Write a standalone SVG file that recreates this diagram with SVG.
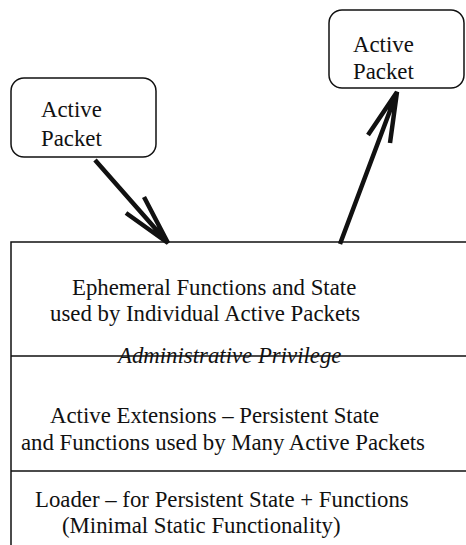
<svg xmlns="http://www.w3.org/2000/svg" width="466" height="545" viewBox="0 0 466 545">
<style>
text{font-family:"Liberation Serif","Times New Roman",serif;font-size:22.8px;fill:#111}
.box{fill:#fff;stroke:#111;stroke-width:1.5}
.ln{stroke:#111;stroke-width:1.5;fill:none}
.arr{stroke:#111;stroke-width:4.5;fill:none;stroke-linecap:butt}
.it{font-style:italic}
</style>
<rect width="466" height="545" fill="#fff"/>
<g id="packet-in">
<rect class="box" x="11" y="78" width="145" height="79" rx="13"/>
<text x="41" y="117">Active</text>
<text x="41" y="146">Packet</text>
</g>
<g id="packet-out">
<rect class="box" x="329" y="10" width="135" height="78" rx="13"/>
<text x="353" y="52">Active</text>
<text x="353" y="79">Packet</text>
</g>
<g id="stack">
<path class="ln" d="M11 545 V242 H466 M11 356 H466 M11 471 H466"/>
<text x="72" y="295">Ephemeral Functions and State</text>
<text x="50" y="321">used by Individual Active Packets</text>
<text class="it" x="118" y="363">Administrative Privilege</text>
<text x="50" y="423">Active Extensions – Persistent State</text>
<text x="21" y="450">and Functions used by Many Active Packets</text>
<text x="35" y="507">Loader – for Persistent State + Functions</text>
<text x="62" y="533">(Minimal Static Functionality)</text>
</g>
<g id="connectors">
<path class="arr" d="M95 160 L168 243 M126 213 L168 243 L144 197"/>
<path class="arr" d="M340 244 L397 92 M368 135 L397 92 L390 143"/>
</g>
</svg>
